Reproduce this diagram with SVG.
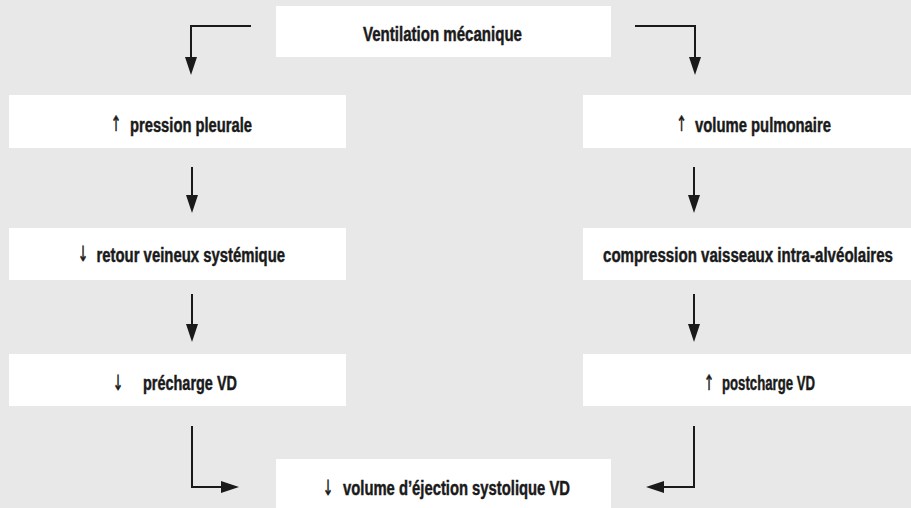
<svg xmlns="http://www.w3.org/2000/svg" width="911" height="508" viewBox="0 0 911 508">
<style>
.bg{fill:#e8e8e8}
.box{fill:#ffffff}
.t{font-family:"Liberation Sans",Arial,sans-serif;font-weight:bold;font-size:19.5px;fill:#1a1a1a;stroke:#1a1a1a;stroke-width:0.45}
.ar{font-family:"DejaVu Sans",sans-serif;font-size:21px;fill:#1a1a1a;stroke:#1a1a1a;stroke-width:0.6;text-anchor:middle}
.c{fill:none;stroke:#1a1a1a;stroke-width:2}
</style>
<defs>
<marker id="ah" markerUnits="userSpaceOnUse" markerWidth="20" markerHeight="14" refX="0" refY="6" orient="auto" overflow="visible">
<path d="M0,0 L18,6 L0,12 z" fill="#1a1a1a"/>
</marker>
</defs>
<rect class="bg" x="0" y="0" width="911" height="508"/>
<g id="n-ventilation"><rect class="box" x="276" y="6" width="335" height="51"/><text class="t" x="363" y="40.5" textLength="159" lengthAdjust="spacingAndGlyphs">Ventilation mécanique</text></g>
<g id="n-pression"><rect class="box" x="9" y="95" width="337" height="53"/><text class="ar" transform="translate(116,131) scale(0.6,1)">↑</text><text class="t" x="130" y="131.5" textLength="122" lengthAdjust="spacingAndGlyphs">pression pleurale</text></g>
<g id="n-volume"><rect class="box" x="583" y="95" width="328" height="53"/><text class="ar" transform="translate(681.5,131) scale(0.6,1)">↑</text><text class="t" x="695" y="131.5" textLength="136" lengthAdjust="spacingAndGlyphs">volume pulmonaire</text></g>
<g id="n-retour"><rect class="box" x="9" y="228" width="337" height="52"/><text class="ar" transform="translate(83,261) scale(0.6,1)">↓</text><text class="t" x="96.5" y="261.5" textLength="188.5" lengthAdjust="spacingAndGlyphs">retour veineux systémique</text></g>
<g id="n-compression"><rect class="box" x="583" y="228" width="328" height="52"/><text class="t" x="603" y="261.5" textLength="290" lengthAdjust="spacingAndGlyphs">compression vaisseaux intra-alvéolaires</text></g>
<g id="n-precharge"><rect class="box" x="9" y="354" width="337" height="52"/><text class="ar" transform="translate(118,389.5) scale(0.6,1)">↓</text><text class="t" x="143" y="390" textLength="94" lengthAdjust="spacingAndGlyphs">précharge VD</text></g>
<g id="n-postcharge"><rect class="box" x="583" y="354" width="328" height="52"/><text class="ar" transform="translate(709,389.5) scale(0.6,1)">↑</text><text class="t" x="722" y="390" textLength="93" lengthAdjust="spacingAndGlyphs">postcharge VD</text></g>
<g id="n-ejection"><rect class="box" x="276" y="459" width="335" height="56"/><text class="ar" transform="translate(328,494.5) scale(0.6,1)">↓</text><text class="t" x="343" y="495" textLength="227" lengthAdjust="spacingAndGlyphs">volume d’éjection systolique VD</text></g>
<g id="connectors">
<path class="c" d="M251,26 H191 V57" marker-end="url(#ah)"/>
<path class="c" d="M635,26 H695 V57" marker-end="url(#ah)"/>
<path class="c" d="M192,167 V195" marker-end="url(#ah)"/>
<path class="c" d="M694,167 V195" marker-end="url(#ah)"/>
<path class="c" d="M192,294 V324" marker-end="url(#ah)"/>
<path class="c" d="M694,294 V324" marker-end="url(#ah)"/>
<path class="c" d="M192,426 V487 H221" marker-end="url(#ah)"/>
<path class="c" d="M694,426 V487 H664" marker-end="url(#ah)"/>
</g>
</svg>
